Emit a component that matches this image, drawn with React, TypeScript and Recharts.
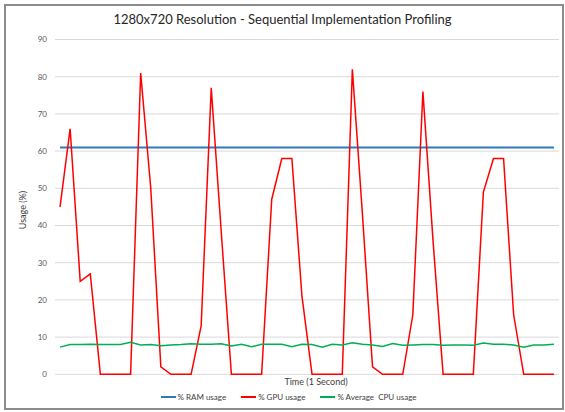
import React from "react";
import { LineChart, Line, XAxis, YAxis, CartesianGrid } from "recharts";

const ramUsage = [
  61, 61, 61, 61, 61, 61, 61, 61, 61, 61,
  61, 61, 61, 61, 61, 61, 61, 61, 61, 61,
  61, 61, 61, 61, 61, 61, 61, 61, 61, 61,
  61, 61, 61, 61, 61, 61, 61, 61, 61, 61,
  61, 61, 61, 61, 61, 61, 61, 61, 61, 61,
];

const gpuUsage = [
  45, 66, 25, 27, 0, 0, 0, 0, 81, 50,
  2, 0, 0, 0, 13, 77, 38, 0, 0, 0,
  0, 47, 58, 58, 21, 0, 0, 0, 0, 82,
  43, 2, 0, 0, 0, 16, 76, 36, 0, 0,
  0, 0, 49, 58, 58, 16, 0, 0, 0, 0,
];

const cpuUsage = [
  7.3, 8.0, 8.0, 8.1, 8.0, 8.0, 8.0, 8.6, 7.9, 8.0,
  7.7, 7.9, 8.0, 8.2, 8.1, 8.1, 8.2, 7.6, 8.05, 7.4,
  8.05, 8.05, 8.1, 7.4, 8.05, 8.0, 7.25, 8.05, 7.9, 8.5,
  8.05, 7.9, 7.5, 8.3, 7.8, 7.9, 8.0, 8.0, 7.8, 7.9,
  7.9, 7.8, 8.4, 8.05, 8.05, 7.9, 7.3, 7.9, 7.9, 8.05,
];

const yTicks = [0, 10, 20, 30, 40, 50, 60, 70, 80, 90];

const series = [
  { key: "ram", name: "% RAM usage", color: "#2f78bd", width: 2 },
  { key: "gpu", name: "% GPU usage", color: "#ff0000", width: 1.5 },
  { key: "cpu", name: "% Average  CPU usage", color: "#00b050", width: 1.5 },
];

const data = gpuUsage.map((g, i) => ({
  t: i,
  ram: ramUsage[i],
  gpu: g,
  cpu: cpuUsage[i],
}));

const font = "Lato, 'Open Sans', sans-serif";

export default function App() {
  return (
    <div style={{ position: "absolute", left: 0, top: 0, width: 565, height: 412, background: "#fff", fontFamily: font, overflow: "hidden" }}>
      <div style={{ position: "absolute", left: 4, top: 4, width: 556, height: 402, border: "2px solid #8c8c8c" }} />
      <div style={{ position: "absolute", left: 0, top: 11, width: 565, textAlign: "center", fontSize: 13, color: "#262626" }}>
        1280x720 Resolution - Sequential Implementation Profiling
      </div>
      <div
        style={{
          position: "absolute",
          left: 22,
          top: 210,
          transform: "translate(-50%, -50%) rotate(-90deg)",
          fontSize: 9,
          color: "#404040",
          whiteSpace: "nowrap",
        }}
      >
        Usage (%)
      </div>
      <div style={{ position: "absolute", left: 316, top: 376, transform: "translateX(-50%)", fontSize: 9, color: "#404040", whiteSpace: "nowrap" }}>
        Time (1 Second)
      </div>

      <div style={{ position: "absolute", left: 0, top: 0 }}>
        <LineChart width={565} height={412} data={data} margin={{ top: 39.5, right: 6, left: 0, bottom: 37.7 }}>
          <CartesianGrid vertical={false} stroke="#d9d9d9" />
          <XAxis dataKey="t" type="number" domain={[-0.5, 49.5]} hide />
          <YAxis
            domain={[0, 90]}
            ticks={yTicks}
            width={55}
            axisLine={false}
            tickLine={false}
            tick={{ fontSize: 8, fill: "#595959", fontFamily: font }}
            interval={0}
          />
          {series.map((s) => (
            <Line
              key={s.key}
              type="linear"
              dataKey={s.key}
              name={s.name}
              stroke={s.color}
              strokeWidth={s.width}
              dot={false}
              activeDot={false}
              isAnimationActive={false}
            />
          ))}
        </LineChart>
      </div>

      <div style={{ position: "absolute", left: 0, top: 392, width: 565, display: "flex", justifyContent: "center", gap: 15, paddingLeft: 12, boxSizing: "border-box" }}>
        {series.map((s) => (
          <div key={s.key} style={{ display: "flex", alignItems: "center", gap: 2, fontSize: 8, color: "#404040", whiteSpace: "pre" }}>
            <span style={{ display: "inline-block", width: 15, height: 2, background: s.color }} />
            <span>{s.name}</span>
          </div>
        ))}
      </div>
    </div>
  );
}
